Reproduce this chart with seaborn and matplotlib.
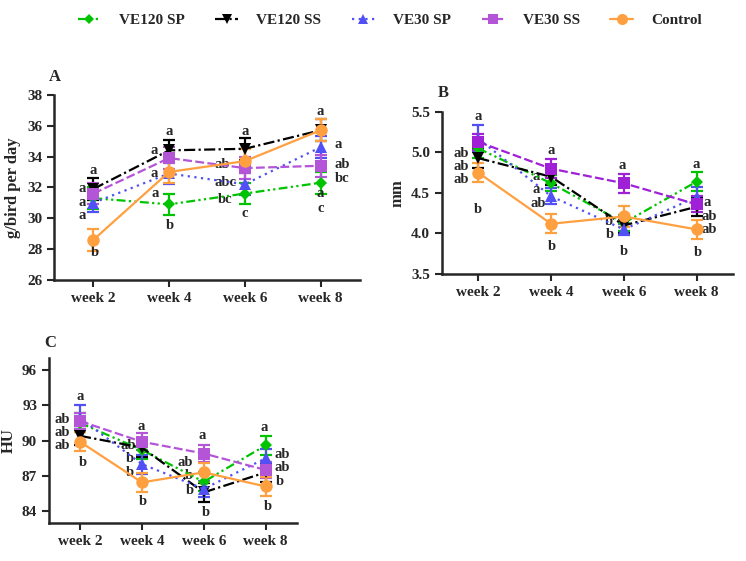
import matplotlib
matplotlib.use("Agg")
import matplotlib.pyplot as plt
import seaborn as sns
import pandas as pd

weeks = ["week 2", "week 4", "week 6", "week 8"]
groups = ["VE120 SP", "VE120 SS", "VE30 SP", "VE30 SS", "Control"]

# panel A: feed intake, g/bird per day
a_mean = {
    "VE120 SP": [31.3, 30.9, 31.6, 32.3],
    "VE120 SS": [31.9, 34.4, 34.5, 35.7],
    "VE30 SP": [31.0, 32.9, 32.2, 34.6],
    "VE30 SS": [31.6, 33.9, 33.25, 33.4],
    "Control": [28.6, 33.0, 33.7, 35.7],
}
a_err = {
    "VE120 SP": [0.7, 0.7, 0.7, 0.7],
    "VE120 SS": [0.7, 0.7, 0.7, 0.7],
    "VE30 SP": [0.6, 0.7, 0.7, 0.7],
    "VE30 SS": [0.7, 0.7, 0.7, 0.7],
    "Control": [0.7, 0.7, 0.8, 0.7],
}
# panel B: mm
b_mean = {
    "VE120 SP": [5.05, 4.62, 4.13, 4.64],
    "VE120 SS": [4.93, 4.70, 4.10, 4.33],
    "VE30 SP": [5.17, 4.46, 4.05, 4.45],
    "VE30 SS": [5.13, 4.80, 4.62, 4.36],
    "Control": [4.75, 4.12, 4.21, 4.05],
}
b_err = {
    "VE120 SP": [0.12, 0.1, 0.1, 0.12],
    "VE120 SS": [0.12, 0.1, 0.1, 0.12],
    "VE30 SP": [0.17, 0.1, 0.07, 0.13],
    "VE30 SS": [0.1, 0.12, 0.12, 0.1],
    "Control": [0.12, 0.12, 0.13, 0.12],
}
# panel C: HU
c_mean = {
    "VE120 SP": [91.5, 89.2, 86.5, 89.6],
    "VE120 SS": [90.4, 89.4, 85.6, 87.3],
    "VE30 SP": [91.9, 88.0, 85.9, 88.5],
    "VE30 SS": [91.65, 89.9, 88.9, 87.5],
    "Control": [89.9, 86.45, 87.3, 86.1],
}
c_err = {
    "VE120 SP": [0.8, 0.8, 0.8, 0.8],
    "VE120 SS": [0.8, 0.8, 0.8, 0.8],
    "VE30 SP": [1.1, 0.8, 0.7, 0.8],
    "VE30 SS": [0.7, 0.7, 0.7, 0.7],
    "Control": [0.8, 0.8, 0.8, 0.8],
}

# significance letters: (week index, x shift, y, text)
a_letters = [
    (0, 0, 33.1, "a"), (0, -0.15, 31.9, "a"), (0, -0.15, 31.05, "a"), (0, -0.15, 30.2, "a"), (0, 0.02, 27.8, "b"),
    (1, 0, 35.65, "a"), (1, -0.2, 34.4, "a"), (1, -0.2, 32.9, "a"), (1, -0.18, 31.6, "a"), (1, 0.01, 29.5, "b"),
    (2, 0, 35.65, "a"), (2, -0.3, 33.5, "ab"), (2, -0.25, 32.3, "abc"), (2, -0.26, 31.2, "bc"), (2, 0, 30.3, "c"),
    (3, 0, 36.9, "a"), (3, 0.24, 34.75, "a"), (3, 0.29, 33.5, "ab"), (3, 0.29, 32.55, "bc"), (3, 0, 31.6, "a"), (3, 0, 30.6, "c"),
]
b_letters = [
    (0, 0, 5.44, "a"), (0, -0.23, 4.99, "ab"), (0, -0.23, 4.83, "ab"), (0, -0.23, 4.67, "ab"), (0, 0, 4.29, "b"),
    (1, 0, 5.03, "a"), (1, -0.2, 4.70, "a"), (1, -0.2, 4.54, "a"), (1, -0.18, 4.37, "ab"), (1, 0.01, 3.84, "b"),
    (2, -0.02, 4.84, "a"), (2, -0.2, 4.15, "b"), (2, -0.19, 3.99, "b"), (2, 0, 3.78, "b"),
    (3, 0, 4.85, "a"), (3, 0.14, 4.38, "a"), (3, 0.18, 4.21, "ab"), (3, 0.18, 4.05, "ab"), (3, 0.02, 3.77, "b"),
]
c_letters = [
    (0, 0, 93.75, "a"), (0, -0.28, 91.75, "ab"), (0, -0.28, 90.65, "ab"), (0, -0.28, 89.55, "ab"), (0, 0.04, 88.1, "b"),
    (1, -0.01, 91.2, "a"), (1, -0.22, 89.55, "ab"), (1, -0.2, 88.45, "b"), (1, -0.2, 87.3, "b"), (1, 0.01, 84.8, "b"),
    (2, -0.02, 90.4, "a"), (2, -0.3, 88.1, "ab"), (2, -0.24, 87.0, "b"), (2, -0.22, 85.75, "b"), (2, 0.03, 83.9, "b"),
    (3, -0.02, 91.1, "a"), (3, 0.26, 88.8, "ab"), (3, 0.26, 87.7, "ab"), (3, 0.23, 86.55, "b"), (3, 0.03, 84.4, "b"),
]

colors = {
    "VE120 SP": "#00c400",
    "VE120 SS": "#000000",
    "VE30 SP": "#5050f5",
    "VE30 SS": "#b455d8",
    "Control": "#ffa040",
}
markers = {"VE120 SP": "D", "VE120 SS": "v", "VE30 SP": "^", "VE30 SS": "s", "Control": "o"}
dashes = {
    "VE120 SP": (4, 1.5, 1, 1.5, 1, 1.5),
    "VE120 SS": (5, 1.5, 1, 1.5),
    "VE30 SP": (1, 2),
    "VE30 SS": (4, 1.5),
    "Control": "",
}
msize = {"VE120 SP": 6, "VE120 SS": 8, "VE30 SP": 8, "VE30 SS": 8, "Control": 9}

sns.set_style("ticks")
plt.rcParams["font.family"] = ["Liberation Serif", "DejaVu Serif"]
plt.rcParams["font.weight"] = "bold"
plt.rcParams["axes.labelweight"] = "bold"

fig = plt.figure(figsize=(7.46, 5.61), dpi=100)
ax_a = fig.add_axes([0.0724, 0.501, 0.410, 0.330])
ax_b = fig.add_axes([0.5925, 0.5116, 0.390, 0.2888])
ax_c = fig.add_axes([0.0657, 0.0677, 0.332, 0.294])


def draw_panel(ax, means, errs, letters, ylim, yticks, ylabel, fmt, purple):
    rows = []
    for g in groups:
        for i, w in enumerate(weeks):
            rows.append({"group": g, "x": i, "value": means[g][i], "err": errs[g][i]})
    df = pd.DataFrame(rows)
    pal = dict(colors)
    pal["VE30 SS"] = purple
    for g in groups:
        sub = df[df["group"] == g]
        ax.errorbar(sub["x"], sub["value"], yerr=sub["err"], fmt="none",
                    ecolor=pal[g], elinewidth=1.6, capsize=4, capthick=1.6, zorder=3)
        sns.lineplot(data=sub, x="x", y="value", ax=ax, color=pal[g],
                     marker=markers[g], markersize=msize[g], markeredgewidth=0,
                     linewidth=1.6, label=g, legend=False, zorder=4)
        if dashes[g]:
            ax.lines[-1].set_dashes(dashes[g])
    for wi, dx, y, t in letters:
        ax.text(wi + dx, y, t, ha="center", va="center", fontsize=10.5, fontweight="bold")
    ax.set_ylim(*ylim)
    ax.set_yticks(yticks)
    ax.set_yticklabels([fmt.format(v) for v in yticks])
    ax.set_xticks(range(len(weeks)))
    ax.set_xticklabels(weeks)
    ax.set_xlabel("")
    ax.set_ylabel(ylabel, fontsize=12, fontweight="bold")
    ax.tick_params(axis="both", labelsize=11, width=1.5, length=5, direction="out")
    for lab in ax.get_xticklabels() + ax.get_yticklabels():
        lab.set_fontweight("bold")
    sns.despine(ax=ax)
    for s in ["left", "bottom"]:
        ax.spines[s].set_linewidth(1.8)


draw_panel(ax_a, a_mean, a_err, a_letters, (26, 38), [26, 28, 30, 32, 34, 36, 38],
           "g/bird per day", "{:.0f}", colors["VE30 SS"])
draw_panel(ax_b, b_mean, b_err, b_letters, (3.5, 5.5), [3.5, 4.0, 4.5, 5.0, 5.5],
           "mm", "{:.1f}", "#a020d8")
draw_panel(ax_c, c_mean, c_err, c_letters, (83, 97), [84, 87, 90, 93, 96],
           "HU", "{:.0f}", colors["VE30 SS"])
ax_a.set_xlim(-0.52, 3.52)
ax_b.set_xlim(-0.5, 3.5)
ax_c.set_xlim(-0.5, 3.5)

fig.text(55 / 746, 1 - 77 / 561, "A", fontsize=12, fontweight="bold", ha="center", va="center")
fig.text(443 / 746, 1 - 93 / 561, "B", fontsize=12, fontweight="bold", ha="center", va="center")
fig.text(50 / 746, 1 - 343 / 561, "C", fontsize=12, fontweight="bold", ha="center", va="center")

handles = []
for g in groups:
    h, = plt.plot([], [], color=colors[g], marker=markers[g], markersize=msize[g] - 1,
                  markeredgewidth=0, linewidth=1.6)
    if dashes[g]:
        h.set_dashes(dashes[g])
    handles.append(h)
fig.legend(handles, groups, loc="center", bbox_to_anchor=(390 / 746, 1 - 20 / 561), ncol=5,
           frameon=False, handlelength=1.5, handletextpad=1.2, columnspacing=2.0,
           prop={"weight": "bold", "size": 11})

fig.savefig("out.png", dpi=100)
